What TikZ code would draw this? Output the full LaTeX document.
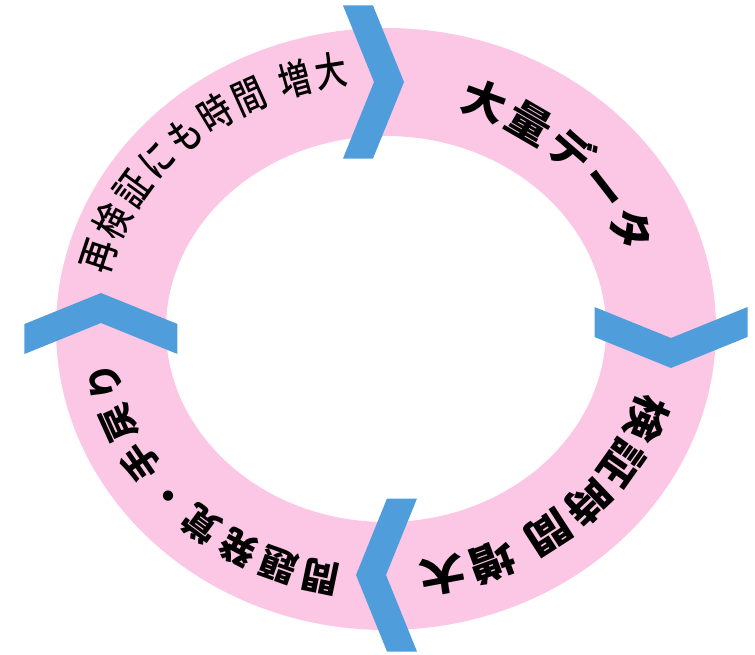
\documentclass[tikz,border=0pt]{standalone}
\usepackage{fontspec}
\newfontfamily\jpfont{Noto Sans CJK JP}
\newfontfamily\jpmedium{Noto Sans CJK JP Medium}
\usetikzlibrary{decorations.text}
\definecolor{ringpink}{RGB}{252,198,229}
\definecolor{arrowblue}{RGB}{79,158,219}
% size, horizontal stretch
\newcommand\ringfont[2]{\fontsize{#1}{#1}\selectfont\addfontfeatures{FakeStretch=#2}}
\tikzset{
  ringlabel/.style 2 args={decorate, decoration={text along path, text align={fit to path},
      text={|#1|#2}}},
}
\begin{document}
\begin{tikzpicture}[x=1pt,y=1pt]
  \useasboundingbox (-386,-325) rectangle (369,329);
  % ring
  \fill[ringpink,even odd rule] (0,0) ellipse [x radius=330pt, y radius=301pt]
    (0,0) ellipse [x radius=220pt, y radius=193pt];
  % chevrons
  \foreach \pos/\ang in {{(-12,247)}/0, {(285,-9)}/-90, {(0,-246)}/180, {(-285,6)}/90}
    \fill[arrowblue, shift={\pos}, rotate=\ang] (-31,76.5) -- (-1,76.5) -- (30,0)
      -- (-1,-76.5) -- (-31,-76.5) -- (0,0) -- cycle;
  % labels
  \path[ringlabel={\jpfont\bfseries\ringfont{42}{1.05}}{大量データ}] (73.3:252pt and 229pt)
    arc[start angle=73.3, end angle=18.3, x radius=252pt, y radius=229pt];
  \path[ringlabel={\jpfont\bfseries\ringfont{41}{1.12}}{検証時間 増大}] (-15.3:264pt and 236pt)
    arc[start angle=-15.3, end angle=-83.1, x radius=264pt, y radius=236pt];
  \path[ringlabel={\jpfont\bfseries\ringfont{37}{1.0}}{問題発覚・手戻り}] (-99.4:274pt and 241pt)
    arc[start angle=-99.4, end angle=-172.6, x radius=274pt, y radius=241pt];
  \path[ringlabel={\jpmedium\ringfont{40}{0.8}}{再検証にも時間 増大}] (167.6:285pt and 247pt)
    arc[start angle=167.6, end angle=97.4, x radius=285pt, y radius=247pt];
\end{tikzpicture}
\end{document}
